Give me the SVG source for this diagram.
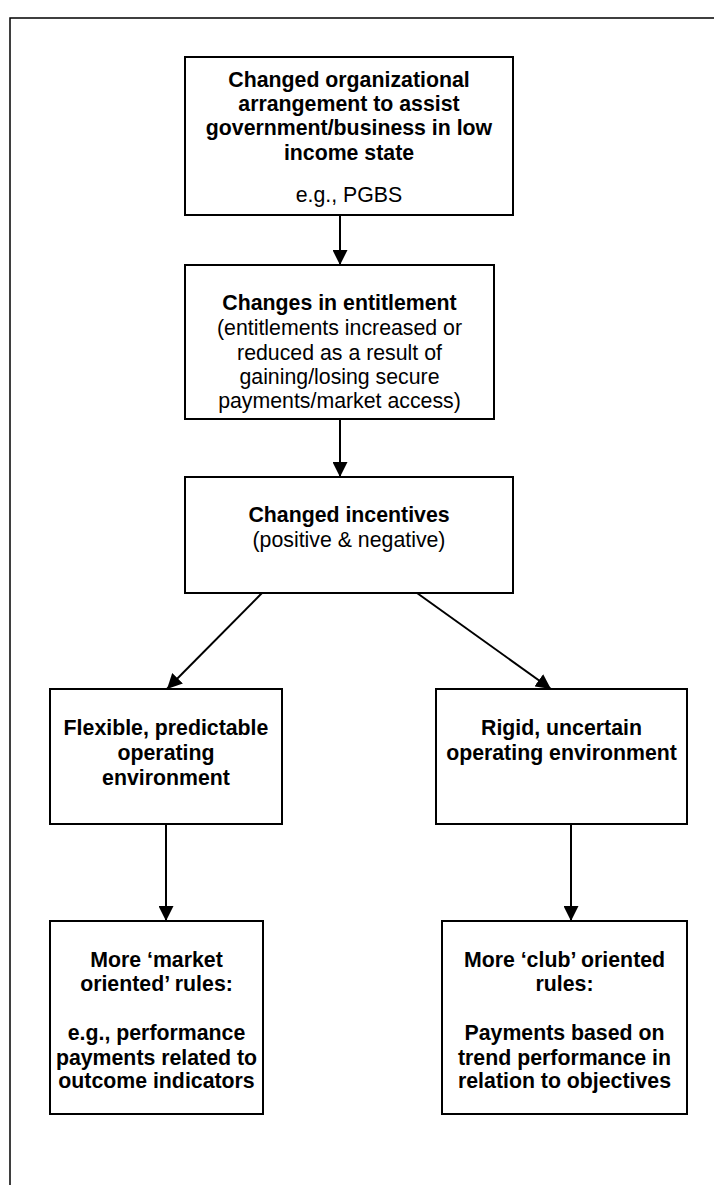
<svg xmlns="http://www.w3.org/2000/svg" width="714" height="1185" viewBox="0 0 714 1185">
<style>
.box{fill:#fff;stroke:#000;stroke-width:2}
.frame{fill:none;stroke:#000;stroke-width:1.5}
.t{font-family:"Liberation Sans",Arial,sans-serif;font-size:21.3px;fill:#000;text-anchor:middle}
.b{font-weight:bold}
.con{stroke:#000;stroke-width:2;fill:none;marker-end:url(#ah)}
</style>
<defs>
<marker id="ah" markerUnits="userSpaceOnUse" markerWidth="15" markerHeight="15" refX="15" refY="7.5" orient="auto">
<path d="M0,0 L15,7.5 L0,15 z" fill="#000"/>
</marker>
</defs>
<rect class="frame" x="10" y="18" width="720" height="1190"/>
<g id="connectors">
<line class="con" x1="340" y1="215" x2="340" y2="265"/>
<line class="con" x1="340" y1="419" x2="340" y2="477"/>
<line class="con" x1="262" y1="593" x2="167" y2="689"/>
<line class="con" x1="417" y1="593" x2="551" y2="689"/>
<line class="con" x1="166" y1="824" x2="166" y2="921"/>
<line class="con" x1="571" y1="824" x2="571" y2="921"/>
</g>
<g id="n1">
<rect class="box" x="185" y="57" width="328" height="158"/>
<text class="t b" x="349" y="87">Changed organizational</text>
<text class="t b" x="349" y="111">arrangement to assist</text>
<text class="t b" x="349" y="135">government/business in low</text>
<text class="t b" x="349" y="160">income state</text>
<text class="t" x="349" y="202">e.g., PGBS</text>
</g>
<g id="n2">
<rect class="box" x="185" y="265" width="309" height="154"/>
<text class="t b" x="339.5" y="310">Changes in entitlement</text>
<text class="t" x="339.5" y="335">(entitlements increased or</text>
<text class="t" x="339.5" y="360">reduced as a result of</text>
<text class="t" x="339.5" y="384">gaining/losing secure</text>
<text class="t" x="339.5" y="408">payments/market access)</text>
</g>
<g id="n3">
<rect class="box" x="185" y="477" width="328" height="116"/>
<text class="t b" x="349" y="522">Changed incentives</text>
<text class="t" x="349" y="547">(positive &amp; negative)</text>
</g>
<g id="n4">
<rect class="box" x="50" y="689" width="232" height="135"/>
<text class="t b" x="166" y="735">Flexible, predictable</text>
<text class="t b" x="166" y="760">operating</text>
<text class="t b" x="166" y="785">environment</text>
</g>
<g id="n5">
<rect class="box" x="436" y="689" width="251" height="135"/>
<text class="t b" x="561.5" y="735">Rigid, uncertain</text>
<text class="t b" x="561.5" y="760">operating environment</text>
</g>
<g id="n6">
<rect class="box" x="50" y="921" width="213" height="193"/>
<text class="t b" x="156.5" y="967">More ‘market</text>
<text class="t b" x="156.5" y="991">oriented’ rules:</text>
<text class="t b" x="156.5" y="1040">e.g., performance</text>
<text class="t b" x="156.5" y="1065">payments related to</text>
<text class="t b" x="156.5" y="1088">outcome indicators</text>
</g>
<g id="n7">
<rect class="box" x="442" y="921" width="245" height="193"/>
<text class="t b" x="564.5" y="967">More ‘club’ oriented</text>
<text class="t b" x="564.5" y="991">rules:</text>
<text class="t b" x="564.5" y="1040">Payments based on</text>
<text class="t b" x="564.5" y="1065">trend performance in</text>
<text class="t b" x="564.5" y="1088">relation to objectives</text>
</g>
</svg>
